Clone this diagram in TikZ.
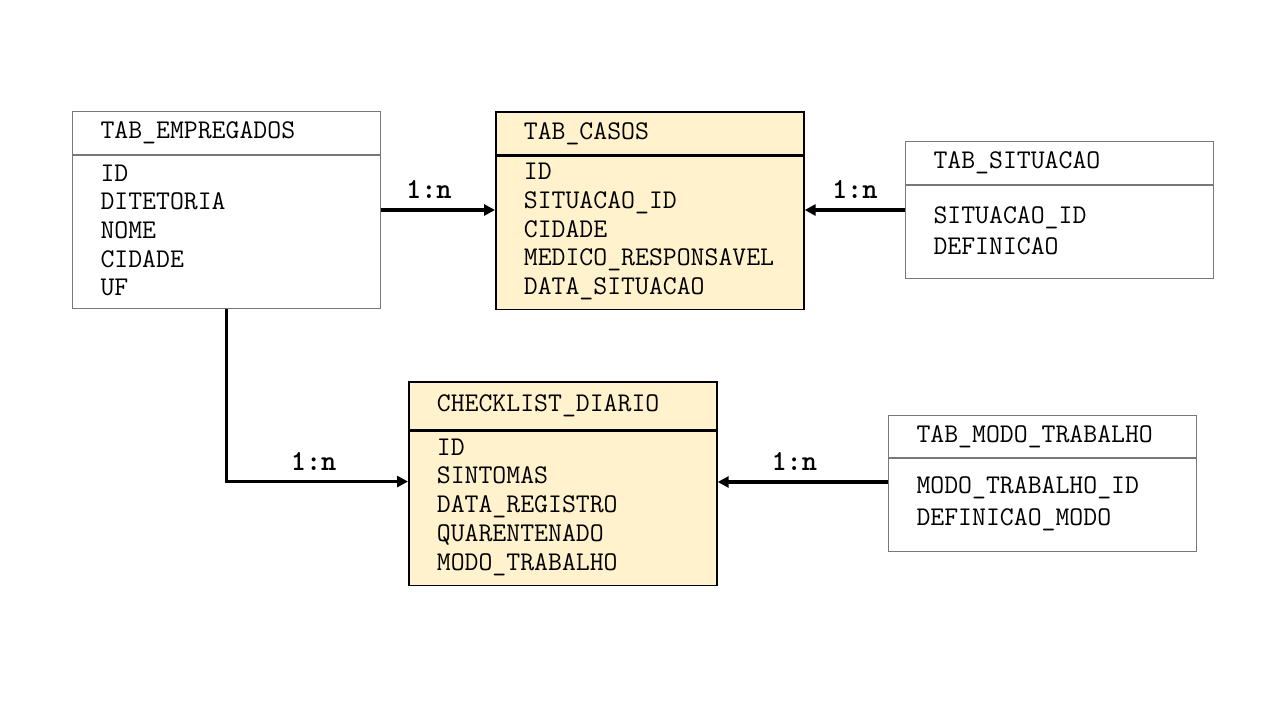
\documentclass[tikz,border=0pt]{standalone}
\usetikzlibrary{positioning,arrows.meta}
\definecolor{casos}{RGB}{255,242,204}
\definecolor{borda}{RGB}{120,120,120}
\tikzset{%
  tabela/.style={draw=borda, line width=1pt, rectangle, text width=252pt,
    inner xsep=28pt, inner ysep=0pt, align=left,
    font=\ttfamily\fontsize{27}{28.7}\selectfont},% white table
  principal/.style={tabela, draw=black, line width=1.7pt, fill=casos},% main table
  rel/.style={line width=3.5pt, -{Triangle[length=11pt,width=11pt]}},% relation
  card/.style={above=6pt, font=\ttfamily\bfseries\fontsize{29}{30}\selectfont}% 1:n
}

\begin{document}
\begin{tikzpicture}[x=1pt, y=-1pt]
\useasboundingbox (0,0) rectangle (1280,720);

% tabelas
\node[tabela, minimum height=43pt, anchor=north west] (empregados) at (72,111) {TAB\_EMPREGADOS};
\node[tabela, minimum height=153pt, below=0pt of empregados] (empregados-campos)
  {ID\\DITETORIA\\NOME\\CIDADE\\UF\vspace{3pt}};

\node[principal, minimum height=43pt, anchor=north west] (casos) at (495,111) {TAB\_CASOS};
\node[principal, minimum height=153pt, below=0pt of casos] (casos-campos)
  {ID\\SITUACAO\_ID\\CIDADE\\MEDICO\_RESPONSAVEL\\DATA\_SITUACAO\vspace{3pt}};

\node[tabela, minimum height=43pt, anchor=north west] (situacao) at (905,141) {TAB\_SITUACAO};
\node[tabela, minimum height=93pt, below=0pt of situacao] (situacao-campos)
  {SITUACAO\_ID\\[2pt]DEFINICAO\vspace{3pt}};

\node[principal, minimum height=48pt, anchor=north west] (checklist) at (408,381) {CHECKLIST\_DIARIO};
\node[principal, minimum height=154pt, below=0pt of checklist] (checklist-campos)
  {ID\\SINTOMAS\\DATA\_REGISTRO\\QUARENTENADO\\MODO\_TRABALHO\vspace{3pt}};

\node[tabela, minimum height=42pt, anchor=north west] (modo) at (888,415) {TAB\_MODO\_TRABALHO};
\node[tabela, minimum height=93pt, below=0pt of modo] (modo-campos)
  {MODO\_TRABALHO\_ID\\[3pt]DEFINICAO\_MODO\vspace{3pt}};

% relacoes
\draw[rel] ([yshift=22pt]empregados-campos.east) -- ([yshift=22pt]empregados-campos.east -| casos-campos.west)
  node[card, pos=0.42] (c1) {1:n};
\draw[rel] ([yshift=22pt]situacao-campos.west) -- ([yshift=22pt]situacao-campos.west -| casos-campos.east)
  node[card, midway] (c2) {1:n};
\draw[rel] (empregados-campos.south) |- ([yshift=27pt]checklist-campos.west)
  node[card, pos=0.74] (c3) {1:n};
\draw[rel] ([yshift=23pt]modo-campos.west) -- ([yshift=23pt]modo-campos.west -| checklist-campos.east)
  node[card, pos=0.55] (c4) {1:n};

\end{tikzpicture}
\end{document}
